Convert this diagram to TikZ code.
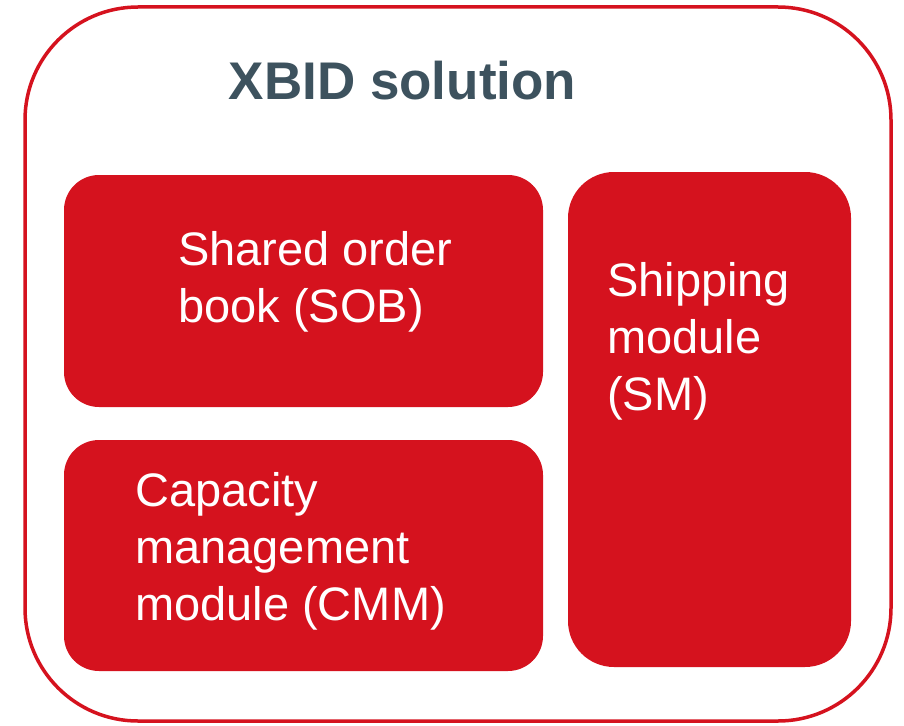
\documentclass[tikz,border=0pt]{standalone}
\usepackage{fontspec}
\setmainfont{Liberation Sans}
\definecolor{xred}{HTML}{D5121E}
\definecolor{xslate}{HTML}{3D525E}
\begin{document}
\begin{tikzpicture}[x=1pt,y=-1pt,
  modbox/.style={fill=xred,draw=none},
  modtext/.style={anchor=base west,inner sep=0pt,text=white,align=left,
    font=\fontsize{47}{57}\selectfont}]
\useasboundingbox (0,0) rectangle (904,725);
\draw[xred,line width=3.5pt,rounded corners=113pt] (25,7) rectangle (891,721);
\node[anchor=base,inner sep=0pt,text=xslate,font=\fontsize{53}{60}\selectfont\bfseries] (title) at (402.5,99) {XBID solution};
\fill[modbox,rounded corners=35pt] (64,175) rectangle (543,407);
\fill[modbox,rounded corners=35pt] (64,440) rectangle (543,671);
\fill[modbox,rounded corners=46pt] (568,172) rectangle (851,667);
\node[modtext] (sob) at (178,322) {Shared order\\book (SOB)};
\node[modtext] (cmm) at (135,620) {Capacity\\management\\module (CMM)};
\node[modtext] (sm) at (607,410) {Shipping\\module\\(SM)};
\end{tikzpicture}
\end{document}
